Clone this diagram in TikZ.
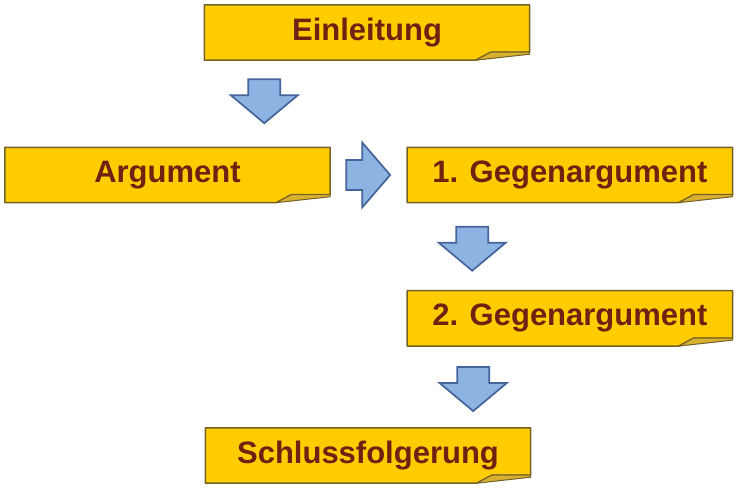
\documentclass[tikz,border=0pt]{standalone}
\usepackage{fontspec}
\setmainfont{Liberation Sans}
\usetikzlibrary{positioning,calc,backgrounds}
\definecolor{notegold}{HTML}{FFCC00}
\definecolor{noteflap}{HTML}{D9B030}
\definecolor{noteline}{HTML}{756228}
\definecolor{notetext}{HTML}{6E2310}
\definecolor{arrowfill}{HTML}{8DB3E2}
\definecolor{arrowline}{HTML}{44649A}
\tikzset{
    note/.style={
        rectangle,
        inner sep=0pt,
        minimum width=325pt,
        minimum height=55pt,
        font=\bfseries\fontsize{31}{36}\selectfont,
        text=notetext,
    },
    paper/.style={
        fill=notegold,
        draw=noteline,
        line width=1.5pt,
        line join=round,
    },
    flap/.style={
        fill=noteflap,
        draw=noteline,
        line width=1pt,
        line join=round,
    },
    blockarrow/.style={
        fill=arrowfill,
        draw=arrowline,
        line width=1.7pt,
    },
    downarrow/.pic={
        \path[blockarrow] (-16,0) -- (16,0) -- (16,16) -- (33.5,16)
            -- (0,44) -- (-33.5,16) -- (-16,16) -- cycle;
    },
    rightarrow/.pic={
        \path[blockarrow] (0,-15) -- (16,-15) -- (16,-32.5) -- (44,0)
            -- (16,32.5) -- (16,15) -- (0,15) -- cycle;
    },
}
\begin{document}
\begin{tikzpicture}[x=1pt,y=-1pt]
    \useasboundingbox (0,0) rectangle (750,494);

    \node [note] (einl) at (367,32.5) {Einleitung};
    \node [note] (arg) at (167.5,175) {Argument};
    \node [note, right=77pt of arg] (geg1) {1. Gegenargument};
    \node [note, below=88pt of geg1] (geg2) {2. Gegenargument};
    \node [note] (schluss) at (368,455.5) {Schlussfolgerung};

    % paper with folded corner
    \begin{scope}[on background layer]
        \foreach \n in {einl,arg,geg1,geg2,schluss} {
            \path[paper] (\n.north west) -- (\n.north east)
                -- ([yshift=8pt]\n.south east) -- ([xshift=-39pt,yshift=8pt]\n.south east)
                -- ([xshift=-54pt]\n.south east) -- (\n.south west) -- cycle;
            \path[flap] ([xshift=-54pt]\n.south east) -- ([xshift=-39pt,yshift=8pt]\n.south east)
                -- ([yshift=8pt]\n.south east) -- ([yshift=6pt]\n.south east) -- cycle;
        }
    \end{scope}

    \pic at ($(einl.south west)+(60,19)$) {downarrow};
    \pic at ($(arg.east)+(16,0)$) {rightarrow};
    \pic at ($(geg1.south west)+(65,24)$) {downarrow};
    \pic at ($(geg2.south west)+(66,21)$) {downarrow};
\end{tikzpicture}
\end{document}
